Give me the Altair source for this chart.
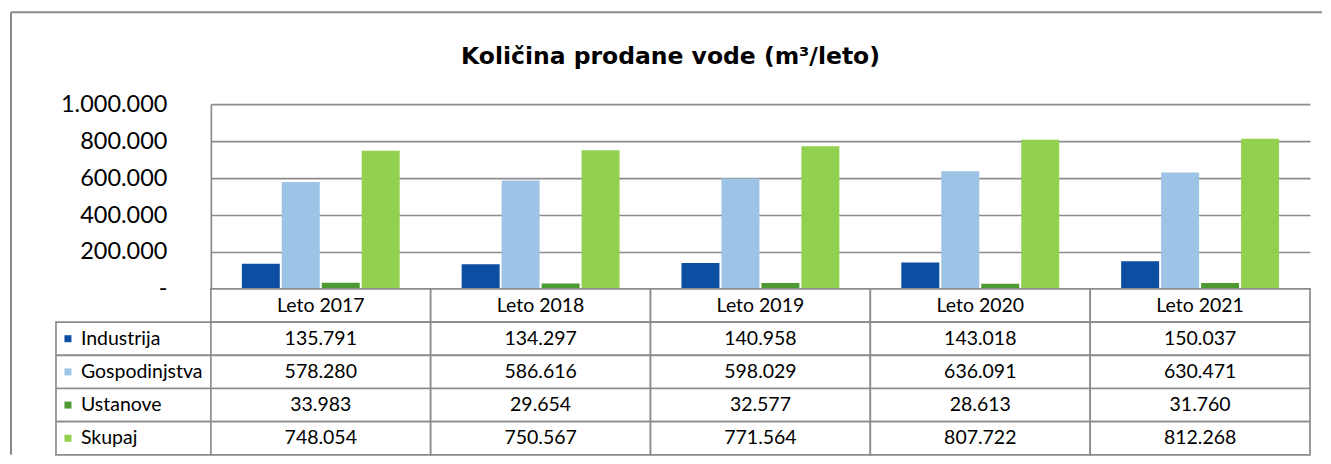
import altair as alt
import pandas as pd

# ---------------- data ----------------
years = ["Leto 2017", "Leto 2018", "Leto 2019", "Leto 2020", "Leto 2021"]
series = ["Industrija", "Gospodinjstva", "Ustanove", "Skupaj"]
industrija = [135791, 134297, 140958, 143018, 150037]
gospodinjstva = [578280, 586616, 598029, 636091, 630471]
ustanove = [33983, 29654, 32577, 28613, 31760]
skupaj = [748054, 750567, 771564, 807722, 812268]
y_ticks = [0, 200000, 400000, 600000, 800000, 1000000]
title_text = "Količina prodane vode (m³/leto)"

# ---------------- styles ----------------
colors = ["#0B4EA2", "#9DC3E6", "#4E9A32", "#92D050"]
FONT = "Lato"
TITLE_FONT = "DejaVu Sans"
GRID = "#8c8c8c"
FRAME = "#8a8a8a"

values = {"Industrija": industrija, "Gospodinjstva": gospodinjstva,
          "Ustanove": ustanove, "Skupaj": skupaj}


def fmt(v):
    return f"{v:,}".replace(",", ".")


rows = []
for s in series:
    for i, yr in enumerate(years):
        v = values[s][i]
        rows.append({"leto": yr, "serija": s, "vrednost": v, "oznaka": fmt(v)})
df = pd.DataFrame(rows)

HDR = "hdr"
row_domain = [HDR] + series
hdr_df = pd.DataFrame({"leto": years, "serija": [HDR] * len(years), "oznaka": years})
table_df = pd.concat([hdr_df, df[["leto", "serija", "oznaka"]]], ignore_index=True)
leg_df = pd.DataFrame({"serija": series})

color_enc = alt.Color("serija:N", scale=alt.Scale(domain=series, range=colors), legend=None)
year_x = alt.X("leto:N", sort=years,
               scale=alt.Scale(domain=years, paddingInner=0, paddingOuter=0), axis=None)
row_y = alt.Y("serija:N", sort=row_domain,
              scale=alt.Scale(domain=row_domain, paddingInner=0, paddingOuter=0), axis=None)

NB = "\u00a0"
label_expr = ("datum.value == 0 ? '-" + NB * 5 + "' : "
              "replace(format(datum.value, ','), regexp(',', 'g'), '.')")

BAR_H = 185
TABLE_H = 166

# ---------------- bars ----------------
bar_marks = alt.Chart(df).mark_bar().encode(
    x=year_x,
    xOffset=alt.XOffset("serija:N", sort=series,
                        scale=alt.Scale(domain=series, paddingInner=0.05, paddingOuter=0.775)),
    y=alt.Y("vrednost:Q",
            scale=alt.Scale(domain=[0, 1000000], nice=False),
            axis=alt.Axis(values=y_ticks, title=None, ticks=False, labelPadding=44,
                          labelFontSize=23.5, labelFont=FONT, labelColor="black",
                          labelExpr=label_expr, grid=True, gridColor=GRID, gridWidth=1.7,
                          domainColor=GRID, domainWidth=1.7)),
    color=color_enc,
)

# top edge of the outer chart frame
frame_src = pd.DataFrame({"k": [0]})
frame_top = alt.Chart(frame_src).mark_rule(color=FRAME, strokeWidth=2).encode(
    x=alt.value(-200), x2=alt.value(1112), y=alt.value(-92))

bars = alt.layer(bar_marks, frame_top).properties(width=1100, height=BAR_H)

# ---------------- data table ----------------
cells = alt.Chart(table_df).mark_rect(fill="white", stroke=GRID, strokeWidth=1.7).encode(
    x=year_x, y=row_y)
cell_text = alt.Chart(table_df).mark_text(font=FONT, fontSize=19.5, color="black").encode(
    x=year_x, y=row_y, text="oznaka:N")
table = alt.layer(cells, cell_text).properties(width=1100, height=TABLE_H)

# ---------------- legend column ----------------
leg_cells = alt.Chart(leg_df).mark_rect(fill="white", stroke=GRID, strokeWidth=1.7).encode(y=row_y)
leg_sw = alt.Chart(leg_df).mark_square(size=49, opacity=1).encode(
    y=row_y, x=alt.value(12), color=color_enc)
leg_txt = alt.Chart(leg_df).mark_text(font=FONT, fontSize=19.5, color="black", align="left").encode(
    y=row_y, x=alt.value(25), text="serija:N")
legend = alt.layer(leg_cells, leg_sw, leg_txt).properties(width=155, height=TABLE_H)

# ---------------- left edge of the outer frame (top-left corner cell) ----------------
frame_left = alt.Chart(frame_src).mark_rule(color=FRAME, strokeWidth=2).encode(
    x=alt.value(-45), y=alt.value(-92), y2=alt.value(BAR_H + TABLE_H))
corner = frame_left.properties(width=155, height=BAR_H)

chart = alt.concat(
    corner, bars, legend, table,
    columns=2, spacing=0, bounds="flush",
    title=alt.TitleParams(title_text, font=TITLE_FONT, fontSize=23.5, fontWeight="bold",
                          color="black", anchor="middle", offset=-57, dx=4),
).configure_view(stroke=None).properties(
    padding={"left": 2, "top": 3, "right": 0, "bottom": 0},
    background="white",
)

chart.save("out.html", embed_options={"renderer": "svg", "actions": False})
